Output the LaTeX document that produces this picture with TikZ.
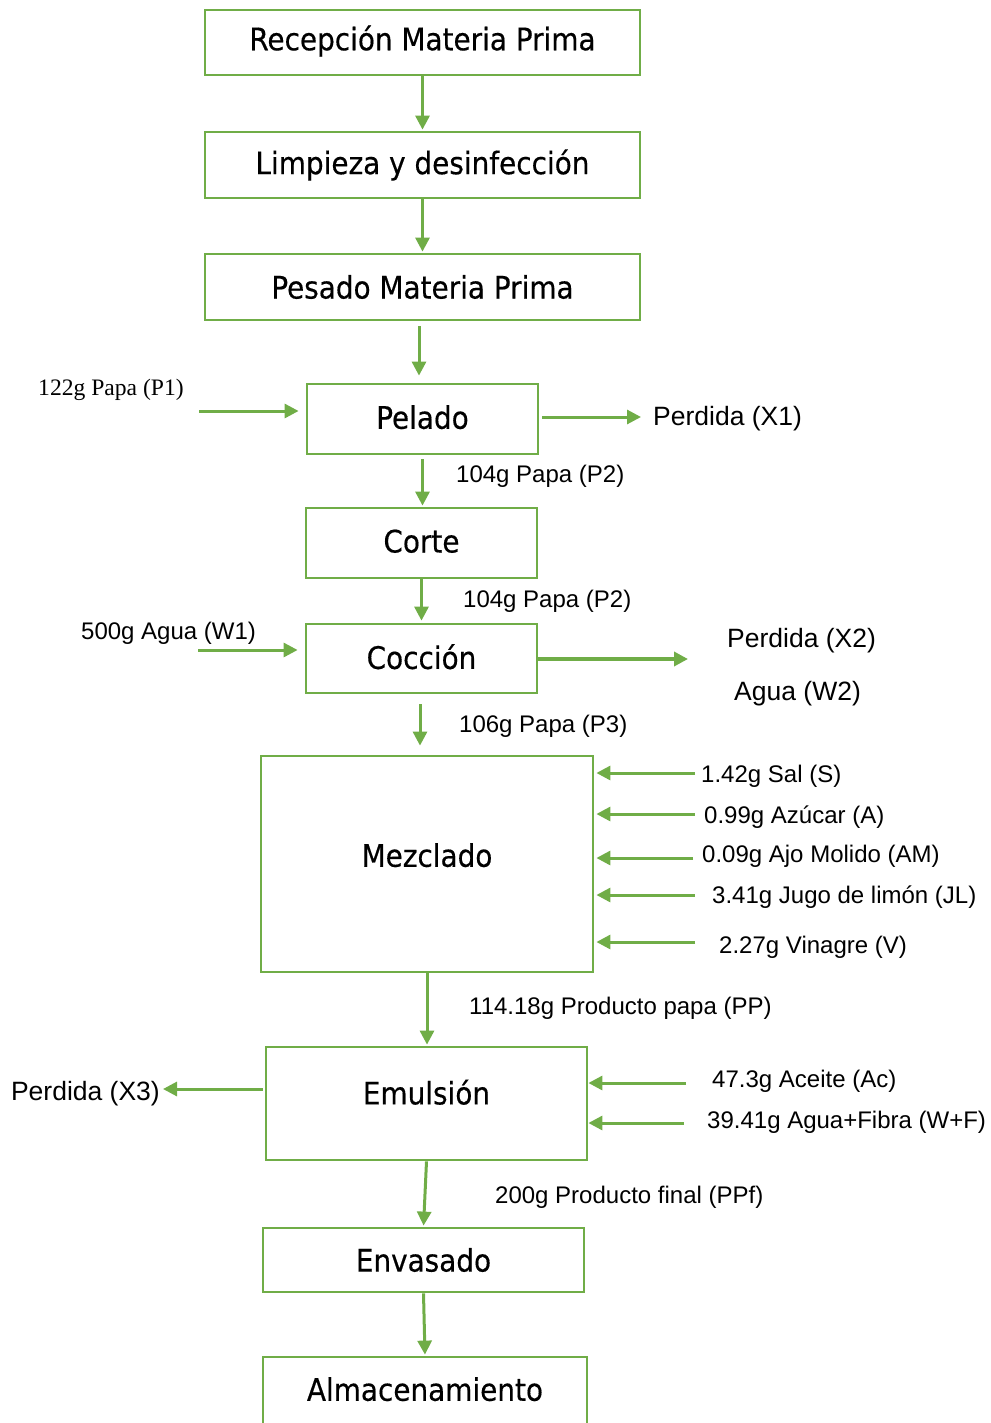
\documentclass[tikz,border=0pt]{standalone}
\usepackage{fontspec}
\setmainfont{Liberation Sans}
\newfontfamily\boxfont[FakeBold=0.4]{DejaVu Sans Condensed}
\newfontfamily\seriffont{Liberation Serif}
\usetikzlibrary{arrows.meta}
\definecolor{leaf}{RGB}{112,173,71}
\begin{document}
\begin{tikzpicture}[x=1pt,y=-1pt,
  proc/.style={draw=leaf, line width=2.8pt, inner sep=0pt,
    font=\boxfont\fontsize{31}{37}\selectfont},
  flow/.style={draw=leaf, line width=3pt, -{Triangle[length=14pt,width=14pt]}},
  lbl/.style={anchor=west, inner sep=0pt, yshift=-2pt, font=\fontsize{24}{29}\selectfont},
  big/.style={font=\fontsize{26.5}{32}\selectfont}]
\useasboundingbox (0,0) rectangle (990,1423);
\clip (0,0) rectangle (990,1423);

% process steps
\node[proc, minimum width=435, minimum height=65, text height=22pt] (rec) at (422.5,42.5) {Recepción Materia Prima};
\node[proc, minimum width=435, minimum height=66] (lim) at (422.5,165) {Limpieza y desinfección};
\node[proc, minimum width=435, minimum height=66] (pes) at (422.5,287) {Pesado Materia Prima};
\node[proc, minimum width=231, minimum height=70, text depth=4pt] (pel) at (422.5,419) {Pelado};
\node[proc, minimum width=231, minimum height=70, text depth=4pt] (cor) at (421.5,543) {Corte};
\node[proc, minimum width=231, minimum height=69, text depth=4pt] (coc) at (421.5,658.5) {Cocción};
\node[proc, minimum width=332, minimum height=216, text depth=18pt] (mez) at (427,864) {Mezclado};
\node[proc, minimum width=321, minimum height=113, text depth=23pt] (emu) at (426.5,1103.5) {Emulsión};
\node[proc, minimum width=321, minimum height=64] (env) at (423.5,1260) {Envasado};
\node[proc, minimum width=324, minimum height=70, text depth=6pt] (alm) at (425,1392) {Almacenamiento};

% stream labels
\node[lbl, font=\seriffont\fontsize{23.6}{28}\selectfont] (p1) at (38,388) {122g Papa (P1)};
\node[lbl, big] (x1) at (653,417) {Perdida (X1)};
\node[lbl] (p2a) at (456,474) {104g Papa (P2)};
\node[lbl] (p2b) at (463,599) {104g Papa (P2)};
\node[lbl] (w1) at (81,631) {500g Agua (W1)};
\node[lbl, big] (x2) at (727,639) {Perdida (X2)};
\node[lbl, big] (w2) at (734,692) {Agua (W2)};
\node[lbl] (p3) at (459,724) {106g Papa (P3)};
\node[lbl] (sal) at (701,774) {1.42g Sal (S)};
\node[lbl] (azu) at (704,815) {0.99g Azúcar (A)};
\node[lbl] (ajo) at (702,854) {0.09g Ajo Molido (AM)};
\node[lbl] (jl) at (712,895) {3.41g Jugo de limón (JL)};
\node[lbl] (vin) at (719,945) {2.27g Vinagre (V)};
\node[lbl] (pp) at (469,1006) {114.18g Producto papa (PP)};
\node[lbl, big, anchor=east] (x3) at (160,1092) {Perdida (X3)};
\node[lbl] (ac) at (712,1079) {47.3g Aceite (Ac)};
\node[lbl] (wf) at (707,1120) {39.41g Agua+Fibra (W+F)};
\node[lbl] (ppf) at (495,1195) {200g Producto final (PPf)};

% free ends of the side streams
\coordinate (in1) at (199,411);
\coordinate (in2) at (198,650);
\coordinate (out1) at (641,417);
\coordinate (out2) at (688,659);
\coordinate (out3) at (163,1089);
\coordinate (insal) at (695,773);
\coordinate (inazu) at (695,814);
\coordinate (inajo) at (693,858);
\coordinate (injl) at (695,895);
\coordinate (invin) at (695,942);
\coordinate (inac) at (686,1083);
\coordinate (inwf) at (684,1123);

% main line
\draw[flow, shorten >=1pt] (rec.south) -- (lim.north);
\draw[flow, shorten >=1pt] (lim.south) -- (pes.north);
\draw[flow, shorten <=5pt, shorten >=7pt] ([xshift=-3.5pt]pes.south) -- ([xshift=-3.5pt]pel.north);
\draw[flow, shorten <=4pt, shorten >=1pt] (pel.south) -- (pel.south |- cor.north);
\draw[flow, shorten >=2pt] (cor.south) -- (cor.south |- coc.north);
\draw[flow, shorten <=10pt, shorten >=9pt] ([xshift=-1.5pt]coc.south) -- ([xshift=-1.5pt]coc.south |- mez.north);
\draw[flow, shorten >=1pt] (mez.south) -- (mez.south |- emu.north);
\draw[flow, shorten >=1pt] (emu.south) -- (env.north);
\draw[flow, shorten >=1pt] (env.south) -- (alm.north);

% side streams
\draw[flow, shorten >=7pt] (in1) -- (in1 -| pel.west);
\draw[flow, shorten <=3pt] (pel.east |- out1) -- (out1);
\draw[flow, shorten >=7pt] (in2) -- (in2 -| coc.west);
\draw[flow, line width=4pt] (coc.east |- out2) -- (out2);
\foreach \c in {insal,inazu,inajo,injl,invin}
  \draw[flow, shorten >=2pt] (\c) -- (\c -| mez.east);
\draw[flow] (inac) -- (inac -| emu.east);
\draw[flow] (inwf) -- (inwf -| emu.east);
\draw[flow, shorten <=2pt] (emu.west |- out3) -- (out3);
\end{tikzpicture}
\end{document}
